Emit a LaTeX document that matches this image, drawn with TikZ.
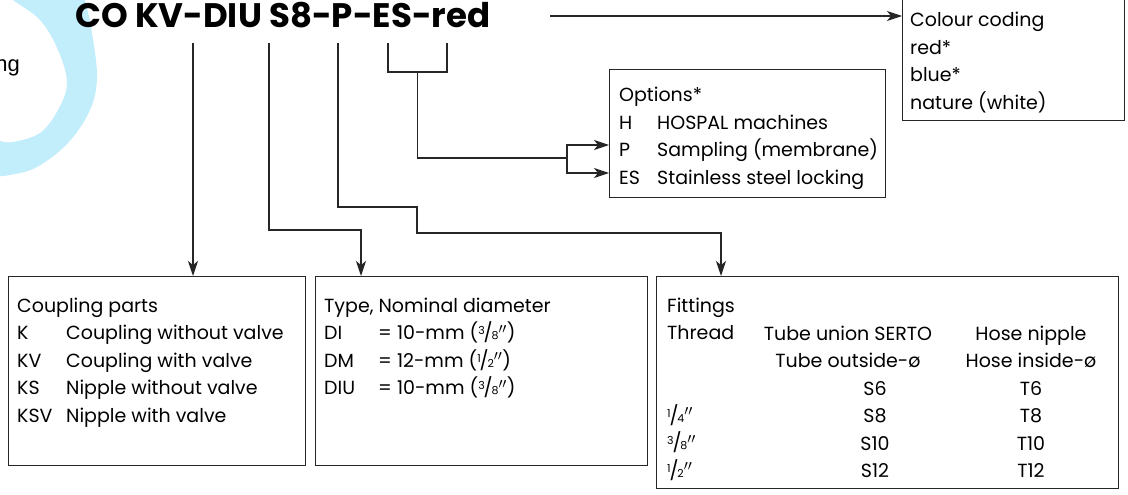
\documentclass[tikz,border=0pt]{standalone}
\usepackage{fontspec}
\setmainfont{Poppins}
\newfontfamily\labelfont{Liberation Sans}
\usetikzlibrary{arrows.meta,calc}
\definecolor{RingBlue}{HTML}{C2EDFB}
\definecolor{LineInk}{HTML}{262626}
\newcommand\frc[2]{\raisebox{0.45ex}{\fontsize{11}{11}\selectfont#1}\kern-0.06em/\kern-0.06em{\fontsize{11}{11}\selectfont#2}}
\newcommand\inch{$''$}

\begin{document}
\begin{tikzpicture}[
  x=1pt,y=-1pt,
  frame/.style={draw=LineInk,line width=1.2pt,inner sep=0pt,anchor=north west},
  txt/.style={inner sep=0pt,anchor=base west,font=\fontsize{19}{27.5}\selectfont},
  wire/.style={draw=LineInk,line width=1.2pt},
  arrow/.style={wire,-{Stealth[length=15pt,width=10pt,inset=4pt]}}
]
  \useasboundingbox (0,0) rectangle (1128,495);

  \fill[RingBlue] plot[smooth,tension=0.6] coordinates {(80,-12) (85,0) (92,33) (97,77) (90,110) (68,143) (37,167) (10,175) (-12,177)}
    -- (-12,141) -- plot[smooth,tension=0.6] coordinates {(0,141) (13,142) (40,133) (58,110) (67,83) (58,50) (40,20) (13,0) (0,-12)} -- cycle;
  \node[inner sep=0pt,anchor=base east,font=\labelfont\fontsize{22}{22}\selectfont] (ringlabel) at (20,72) {ng};

  \node[inner sep=0pt,anchor=base west,font=\fontsize{34}{34}\selectfont\bfseries] (code) at (75,28) {CO KV-DIU S8-P-ES-red};

  \node[frame,minimum width=222,minimum height=140] (colourbox) at (902,-20) {};
  \node[frame,minimum width=276,minimum height=128] (optbox) at (609,69) {};
  \node[frame,minimum width=297,minimum height=189] (partbox) at (8,276) {};
  \node[frame,minimum width=332,minimum height=189] (typebox) at (315,276) {};
  \node[frame,minimum width=462,minimum height=212] (fitbox) at (656,276) {};

  \node[txt] (colourtxt) at (910,27) {\begin{tabular}[t]{@{}l@{}}
    Colour coding\\ red*\\ blue*\\ nature (white)\end{tabular}};
  \node[txt] (opttxt) at (619,102) {\begin{tabular}[t]{@{}p{38pt}@{}l@{}}
    \multicolumn{2}{@{}l@{}}{Options*}\\
    H & HOSPAL machines\\ P & Sampling (membrane)\\ ES & Stainless steel locking\end{tabular}};
  \node[txt] (parttxt) at (17,312) {\begin{tabular}[t]{@{}p{49pt}@{}l@{}}
    \multicolumn{2}{@{}l@{}}{Coupling parts}\\
    K & Coupling without valve\\ KV & Coupling with valve\\
    KS & Nipple without valve\\ KSV & Nipple with valve\end{tabular}};
  \node[txt] (typetxt) at (324,312) {\begin{tabular}[t]{@{}p{54pt}@{}l@{}}
    \multicolumn{2}{@{}l@{}}{Type, Nominal diameter}\\
    DI & = 10-mm (\frc38\inch)\\ DM & = 12-mm (\frc12\inch)\\ DIU & = 10-mm (\frc38\inch)\end{tabular}};

  \node[txt] (fittxt) at (667,312) {\begin{tabular}[t]{@{}l@{}}
    Fittings\\ Thread\\ \\ \\ \frc14\inch\\ \frc38\inch\\ \frc12\inch\end{tabular}};
  \node[txt,anchor=base] (sertohead) at (848,340) {\begin{tabular}[t]{@{}c@{}}
    Tube union SERTO\\ Tube outside-ø\end{tabular}};
  \node[txt,anchor=base] (sertocol) at (875,395) {\begin{tabular}[t]{@{}c@{}}
    S6\\ S8\\ S10\\ S12\end{tabular}};
  \node[txt,anchor=base] (hosecol) at (1031,340) {\begin{tabular}[t]{@{}c@{}}
    Hose nipple\\ Hose inside-ø\\ T6\\ T8\\ T10\\ T12\end{tabular}};

  \coordinate (tapC) at (550,16);
  \coordinate (tapK) at (193,43);
  \coordinate (tapD) at (269,43);
  \coordinate (tapS) at (338,43);
  \coordinate (tapP) at (388,43);
  \coordinate (tapE) at (447,43);
  \coordinate (fork) at (567,158);
  \coordinate (rowP) at ($(optbox.north west)+(0,76)$);
  \coordinate (rowES) at ($(optbox.north west)+(0,104)$);

  \draw[arrow] (tapC) -- (tapC -| colourbox.west);
  \draw[arrow] (tapK) -- (tapK |- partbox.north);
  \draw[arrow] (tapD) -- ++(0,187) -| ($(typebox.north west)+(46,0)$);
  \draw[arrow] (tapS) -- ++(0,164) -| ++(79,26) -| ($(fitbox.north west)+(65,0)$);
  \draw[wire] (tapP) -- ++(0,29) -| (tapE);
  \draw[wire] ($(tapP)!0.5!(tapE)+(0,29)$) |- (fork);
  \draw[arrow] (fork) |- (rowP);
  \draw[arrow] (fork) |- (rowES);
\end{tikzpicture}
\end{document}
